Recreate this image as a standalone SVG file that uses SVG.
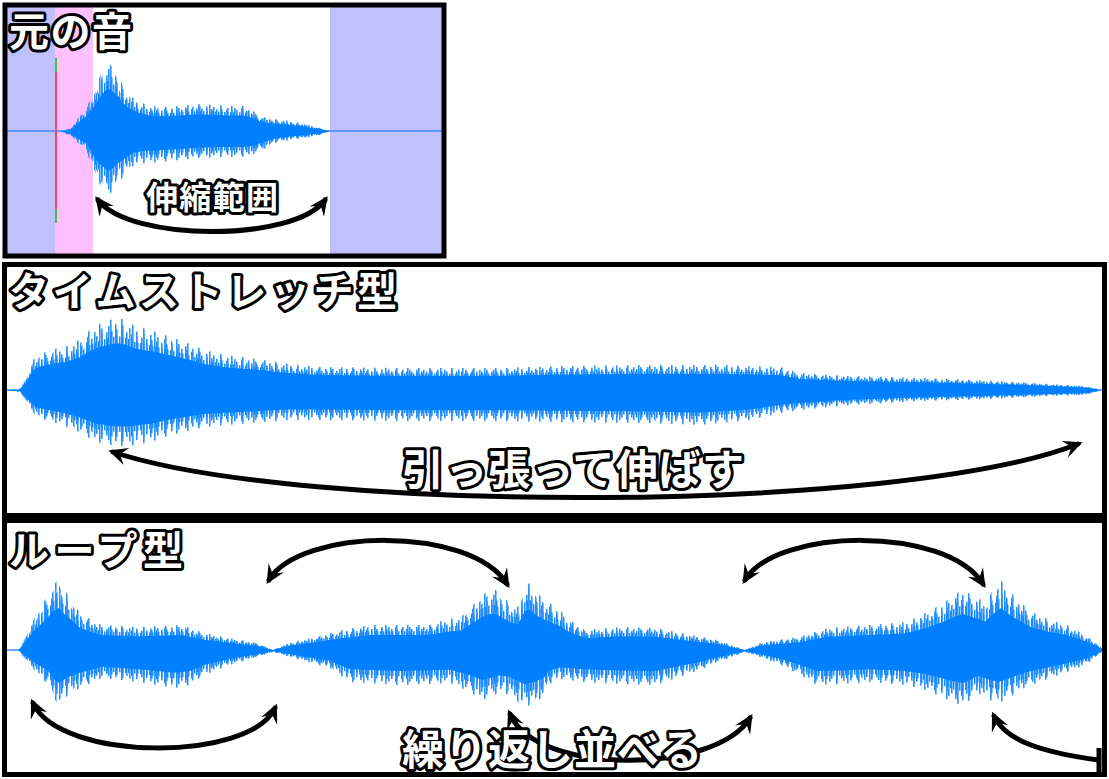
<svg xmlns="http://www.w3.org/2000/svg" xmlns:xlink="http://www.w3.org/1999/xlink" width="1109" height="779" viewBox="0 0 1109 779">
<style>
.frame{fill:none;stroke:#000;stroke-width:5}
.lbl{font-family:"Noto Sans CJK JP","Noto Sans",sans-serif;font-weight:700;fill:#fff;stroke:#000;stroke-width:6;stroke-linejoin:round;paint-order:stroke}
.arc{fill:none;stroke:#000;stroke-width:5;stroke-linecap:round}
.solid{fill:#0080ff}
.axis{stroke:#3b8cff;stroke-width:1.5}
</style>
<defs>
<pattern id="p11" width="11" height="8" patternUnits="userSpaceOnUse"><rect width="1.6" height="8" fill="#2b95ff"/></pattern>
<pattern id="p7" x="3" width="7" height="8" patternUnits="userSpaceOnUse"><rect width="1.6" height="8" fill="#2b95ff"/></pattern>
<pattern id="p5" x="1" width="5" height="8" patternUnits="userSpaceOnUse"><rect width="1.6" height="8" fill="#2490ff"/></pattern>
<pattern id="p3" x="2" width="3" height="8" patternUnits="userSpaceOnUse"><rect width="1.5" height="8" fill="#1a8cff"/></pattern>
<marker id="ah" viewBox="0 0 16 16" refX="12" refY="8" markerWidth="19" markerHeight="19" markerUnits="userSpaceOnUse" orient="auto-start-reverse"><path d="M0,0.5 L16,8 L0,15.5 L6,8 Z" fill="#000"/></marker>
<path id="w1" d="M60,131 L66,130 72,127 78,118 82,112 86,108 90,100 95,90 100,76 105,66 109,63 113,68 118,74 122,84 127,92 133,98 140,102 150,106 165,107 180,106 200,104 215,105 230,106 245,106 255,112 262,117 275,119 290,121 305,124 320,128 330,131 320,135 305,138 290,140 275,143 262,150 250,156 240,157 220,157 200,158 180,160 160,162 145,163 133,166 125,175 118,183 112,192 108,195 104,190 99,183 95,175 90,160 85,150 80,145 75,140 70,136 64,133 Z"/>
<path id="w2" d="M5,390 L18,390 22,386 26,378 29,370 33,360 40,354 55,349 65,347 79,340 90,330 100,324 110,320 118,318 125,320 135,326 150,330 171,337 190,344 204,350 225,355 250,358 289,364 321,367 400,368 500,368 560,366 650,365 720,365 780,367 800,373 850,376 924,378 1000,381 1050,384 1085,386 1103,390 1085,395 1050,396 990,399 924,401 850,405 800,410 781,413 750,420 700,425 650,423 560,422 500,421 400,421 321,420 289,420 250,423 204,427 171,435 150,442 129,446 116,446 96,442 79,432 60,424 45,420 36,416 29,407 24,398 20,392 Z"/>
<path id="w3" d="M5,650 L18,650 22,645 27,632 36,615 48,595 55,583 59,580 63,588 68,595 80,613 95,622 102,625 139,627 160,626 182,625 204,633 230,638 257,643 273,650 289,643 311,638 343,630 370,625 429,625 445,620 461,617 470,608 482,595 490,590 496,590 504,598 512,605 518,607 525,585 530,583 536,592 545,600 560,610 567,618 585,630 620,627 656,628 692,635 717,640 745,650 763,642 799,637 828,628 870,625 906,622 928,612 945,602 955,594 963,590 970,594 978,598 985,603 993,590 1001,580 1006,587 1013,595 1031,612 1050,620 1067,625 1085,635 1099,645 1103,650 1099,655 1085,665 1067,672 1045,680 1024,688 1010,697 999,703 990,700 978,693 970,700 963,705 955,703 942,697 925,690 906,685 870,682 840,684 817,685 800,675 781,665 760,657 745,652 730,658 717,662 700,670 685,675 656,685 620,684 585,682 560,679 549,684 545,695 535,703 525,707 518,702 510,695 500,692 490,697 482,700 470,692 450,683 400,685 350,682 330,668 300,660 273,652 257,657 230,665 204,675 190,685 175,688 139,682 102,678 80,688 68,695 59,705 55,700 48,685 36,672 27,662 22,655 18,650 Z"/>
</defs>
<rect width="1109" height="779" fill="#fff"/>

<g id="panel-original">
<rect x="5" y="5" width="50" height="251" fill="#c0c0ff"/>
<rect x="55" y="5" width="38" height="251" fill="#ffc0ff"/>
<rect x="330" y="5" width="114" height="251" fill="#c0c0ff"/>
<line class="axis" x1="5" y1="131" x2="444" y2="131"/>
<use href="#w1" fill="url(#p11)"/>
<use href="#w1" fill="url(#p7)" transform="translate(0,10.48) scale(1,0.92)"/>
<use href="#w1" fill="url(#p5)" transform="translate(0,20.96) scale(1,0.84)"/>
<use href="#w1" fill="url(#p3)" transform="translate(0,32.75) scale(1,0.75)"/>
<use href="#w1" class="solid" transform="translate(0,49.78) scale(1,0.62)"/>
<line x1="56" y1="58" x2="56" y2="223" stroke="#f04a60" stroke-width="2"/>
<line x1="56" y1="58" x2="56" y2="72" stroke="#3cc83c" stroke-width="2"/>
<line x1="56" y1="209" x2="56" y2="223" stroke="#3cc83c" stroke-width="2"/>
<rect class="frame" x="5" y="5" width="439" height="251"/>
</g>

<g id="panel-stretch">
<line class="axis" x1="5" y1="390" x2="30" y2="390"/>
<use href="#w2" fill="url(#p11)"/>
<use href="#w2" fill="url(#p7)" transform="translate(0,31.2) scale(1,0.92)"/>
<use href="#w2" fill="url(#p5)" transform="translate(0,62.4) scale(1,0.84)"/>
<use href="#w2" fill="url(#p3)" transform="translate(0,97.5) scale(1,0.75)"/>
<use href="#w2" class="solid" transform="translate(0,136.5) scale(1,0.65)"/>
<rect class="frame" x="4.5" y="264.5" width="1100" height="251"/>
</g>

<g id="panel-loop">
<line class="axis" x1="5" y1="650" x2="30" y2="650"/>
<use href="#w3" fill="url(#p11)"/>
<use href="#w3" fill="url(#p7)" transform="translate(0,52) scale(1,0.92)"/>
<use href="#w3" fill="url(#p5)" transform="translate(0,104) scale(1,0.84)"/>
<use href="#w3" fill="url(#p3)" transform="translate(0,162.5) scale(1,0.75)"/>
<use href="#w3" class="solid" transform="translate(0,260) scale(1,0.6)"/>
<rect class="frame" x="4.5" y="520.5" width="1100" height="254"/>
</g>

<g id="connectors">
<path class="arc" d="M98,200 C130,242 295,242 325,200" marker-start="url(#ah)" marker-end="url(#ah)"/>
<path class="arc" d="M113,452 C300,514 900,514 1078,444" marker-start="url(#ah)" marker-end="url(#ah)"/>
<path class="arc" d="M269,580 C300,528 470,525 507,584" marker-start="url(#ah)" marker-end="url(#ah)"/>
<path class="arc" d="M745,580 C776,528 946,525 983,584" marker-start="url(#ah)" marker-end="url(#ah)"/>
<path class="arc" d="M33,703 C60,762 250,762 275,708" marker-start="url(#ah)" marker-end="url(#ah)"/>
<path class="arc" d="M510,714 C535,775 715,775 750,718" marker-start="url(#ah)" marker-end="url(#ah)"/>
<path class="arc" d="M1098,760 C1040,752 1005,740 994,716" marker-end="url(#ah)"/>
<line x1="1099" y1="748" x2="1099" y2="772" stroke="#000" stroke-width="5"/>
</g>

<g id="labels">
<text class="lbl" x="9" y="46" font-size="40" textLength="123" lengthAdjust="spacing">元の音</text>
<text class="lbl" x="146" y="209" font-size="32" textLength="132" lengthAdjust="spacing">伸縮範囲</text>
<text class="lbl" x="9" y="306" font-size="40" textLength="388" lengthAdjust="spacing">タイムストレッチ型</text>
<text class="lbl" x="402" y="485" font-size="42" textLength="342" lengthAdjust="spacing">引っ張って伸ばす</text>
<text class="lbl" x="9" y="565" font-size="40" textLength="174" lengthAdjust="spacing">ループ型</text>
<text class="lbl" x="402" y="765" font-size="42" textLength="300" lengthAdjust="spacing">繰り返し並べる</text>
</g>
</svg>
